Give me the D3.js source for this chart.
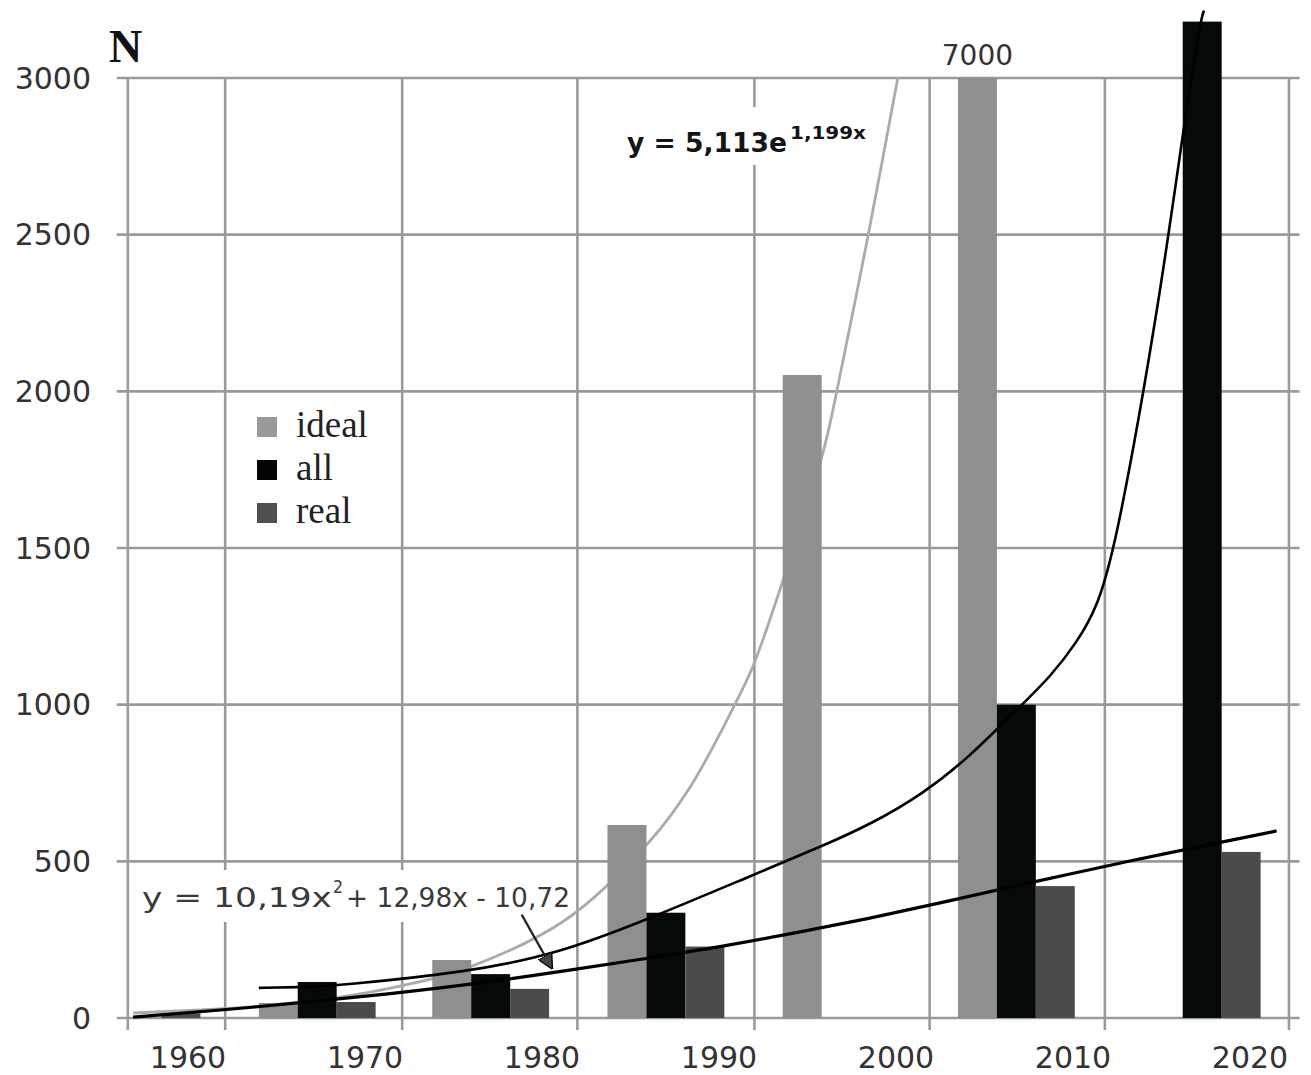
<!DOCTYPE html>
<html><head><meta charset="utf-8">
<script src="https://cdn.jsdelivr.net/npm/d3@7"></script>
<style>body{margin:0;background:#fff} svg{display:block}</style>
</head><body><svg id="c" width="1311" height="1075"></svg>
<script>
// ---------- data ----------
const groupYears = [1957.4, 1967.3, 1977.1, 1987.0, 1996.9, 2006.8, 2017.3];
const seriesNames = ["ideal", "all", "real"];
const idealValues = [17, 48, 185, 616, 2052, 7000, null];
const allValues = [null, 115, 140, 336, null, 1000, 3180];
const realValues = [15, 51, 93, 228, null, 421, 530];
const yTicks = [0, 500, 1000, 1500, 2000, 2500, 3000];
const xTickYears = [1960, 1970, 1980, 1990, 2000, 2010, 2020];
const gridYears = [1956.6, 1962.1, 1972.1, 1982.0, 1992.0, 2001.9, 2011.8, 2022.2];
const idealTrend = [[1956.9,16],[1960.7,26],[1964.0,38],[1968.4,65],[1972.1,103],[1975.8,160],[1981.4,316],[1986.1,565],[1988.4,740],[1990.8,990],[1991.9,1120],[1993.4,1360],[1995.9,1810],[1996.8,2040],[1998.5,2520],[2000.1,3000]];
const allTrend = [[1964.0,96],[1966.2,98],[1968.4,103],[1975.9,147],[1981.0,207],[1985.9,313],[1991.9,456],[1995.9,550],[1998.7,622],[2001.5,715],[2004.0,825],[2007.2,1005],[2008.7,1088],[2010.2,1197],[2011.4,1312],[2012.5,1526],[2014.9,2292],[2016.2,2825],[2017.2,3185],[2017.4,3215]];
const realTrend = [[1956.9,3],[1962.2,26],[1968.4,60],[1971.8,80],[1975.9,106],[1981.6,153],[1985.9,190],[1990.1,227],[1995.0,279],[1998.7,320],[2002.5,367],[2007.0,425],[2014.0,511],[2016.3,537],[2021.5,597]];
const idealFormula = ["y = 5,113e", "1,199x"];
const realFormula = ["y = 10,19x", "2", " + 12,98x - 10,72"];
const overflowLabel = "7000";

// ---------- scales ----------
const svg = d3.select("#c");
const x = d3.scaleLinear().domain([1960, 2020]).range([188, 1250]);
const y = d3.scaleLinear().domain([0, 3000]).range([1018, 78]);
const xL = x(1956.6), xR = x(2022.8);
const bw = x(2.2) - x(0);
const colors = {ideal: "#8f8f8f", all: "#060909", real: "#4b4b4b"};
const gridColor = "#9a9a9a";

// ---------- grid ----------
const grid = svg.append("g");
grid.selectAll("line.h").data(yTicks).join("line")
  .attr("x1", xL - 11).attr("x2", xR)
  .attr("y1", d => y(d)).attr("y2", d => y(d))
  .attr("stroke", gridColor).attr("stroke-width", 2.6);
grid.selectAll("line.v").data(gridYears).join("line")
  .attr("x1", d => x(d)).attr("x2", d => x(d))
  .attr("y1", y(3000)).attr("y2", y(0) + 12)
  .attr("stroke", gridColor).attr("stroke-width", 2.6);

// white label boxes (mask gridlines)
svg.append("rect").attr("x", 135).attr("y", 870).attr("width", 440).attr("height", 52).attr("fill", "#fff");
svg.append("rect").attr("x", 618).attr("y", 107).attr("width", 255).attr("height", 58).attr("fill", "#fff");

// ---------- axis labels ----------
svg.append("g").selectAll("text").data(yTicks).join("text")
  .attr("x", 91).attr("y", d => y(d)).attr("dy", "0.36em")
  .attr("text-anchor", "end")
  .attr("font-family", "DejaVu Sans").attr("font-size", 30).attr("fill", "#333")
  .text(d => d);
svg.append("g").selectAll("text").data(xTickYears).join("text")
  .attr("x", d => x(d)).attr("y", 1068)
  .attr("text-anchor", "middle")
  .attr("font-family", "DejaVu Sans").attr("font-size", 30).attr("fill", "#333")
  .text(d => d);
svg.append("text").attr("x", 109).attr("y", 62)
  .attr("font-family", "Liberation Serif").attr("font-weight", "bold").attr("font-size", 46).attr("fill", "#111")
  .text("N");

// ---------- exponential trend (behind bars) ----------
const line = d3.line().x(d => x(d[0])).y(d => y(d[1])).curve(d3.curveCatmullRom);
svg.append("path").datum(idealTrend).attr("d", line)
  .attr("fill", "none").attr("stroke", "#ababab").attr("stroke-width", 2.8);

// ---------- bars ----------
svg.append("clipPath").attr("id", "plot").append("rect")
  .attr("x", xL).attr("y", 0).attr("width", xR - xL).attr("height", y(0));
const seriesData = {ideal: idealValues, all: allValues, real: realValues};
const offsets = {ideal: -1, all: 0, real: 1};
const bars = [];
seriesNames.forEach(s => seriesData[s].forEach((v, i) => {
  if (v != null) bars.push({s, v, i});
}));
const shown = v => v > 4000 ? 3000 : v;
svg.append("g").attr("clip-path", "url(#plot)").selectAll("rect").data(bars).join("rect")
  .attr("x", d => x(groupYears[d.i]) - bw / 2 + offsets[d.s] * bw)
  .attr("width", bw)
  .attr("y", d => y(shown(d.v)))
  .attr("height", d => y(0) - y(shown(d.v)))
  .attr("fill", d => colors[d.s]);
svg.append("g").selectAll("text").data(bars.filter(d => d.v > 4000)).join("text")
  .attr("x", d => x(groupYears[d.i]) + offsets[d.s] * bw)
  .attr("y", 65).attr("text-anchor", "middle")
  .attr("font-family", "DejaVu Sans").attr("font-size", 28).attr("fill", "#333")
  .text(overflowLabel);

// ---------- black curves ----------
svg.append("path").datum(realTrend).attr("d", d3.line().x(d => x(d[0])).y(d => y(d[1])).curve(d3.curveBasis))
  .attr("fill", "none").attr("stroke", "#000").attr("stroke-width", 3.2);
svg.append("path").datum(allTrend).attr("d", d3.line().x(d => x(d[0])).y(d => y(d[1])).curve(d3.curveBasis))
  .attr("fill", "none").attr("stroke", "#000").attr("stroke-width", 2.6);

// ---------- formulas ----------
const f1 = svg.append("g");
f1.append("text").attr("x", 627).attr("y", 152)
  .attr("font-family", "DejaVu Sans").attr("font-weight", "bold").attr("font-size", 27).attr("fill", "#151515")
  .attr("textLength", 160).attr("lengthAdjust", "spacingAndGlyphs").text(idealFormula[0]);
f1.append("text").attr("x", 790).attr("y", 139)
  .attr("font-family", "DejaVu Sans").attr("font-weight", "bold").attr("font-size", 17).attr("fill", "#151515")
  .attr("textLength", 76).attr("lengthAdjust", "spacingAndGlyphs").text(idealFormula[1]);

const f2 = svg.append("g").attr("font-family", "DejaVu Sans").attr("fill", "#3a3a3a");
f2.append("text").attr("x", 142).attr("y", 907).attr("font-size", 27)
  .attr("textLength", 190).attr("lengthAdjust", "spacingAndGlyphs").text(realFormula[0]);
f2.append("text").attr("x", 333).attr("y", 893).attr("font-size", 17)
  .attr("textLength", 10).attr("lengthAdjust", "spacingAndGlyphs").text(realFormula[1]);
f2.append("text").attr("x", 346).attr("y", 907).attr("font-size", 27)
  .attr("textLength", 224).attr("lengthAdjust", "spacingAndGlyphs").text(realFormula[2]);

// arrow
svg.append("defs").append("marker").attr("id", "ah")
  .attr("viewBox", "0 0 10 10").attr("refX", 9).attr("refY", 5)
  .attr("markerWidth", 7).attr("markerHeight", 7).attr("orient", "auto")
  .append("path").attr("d", "M0,0 L10,5 L0,10 Z").attr("fill", "#444").attr("stroke", "#111");
svg.append("line")
  .attr("x1", x(1978.85)).attr("y1", y(330))
  .attr("x2", x(1980.55)).attr("y2", y(160))
  .attr("stroke", "#222").attr("stroke-width", 2.2).attr("marker-end", "url(#ah)");

// ---------- legend ----------
const legendColors = {ideal: "#999", all: "#050505", real: "#4f4f4f"};
const lg = svg.append("g");
const lgBase = [437, 480, 523];
seriesNames.forEach((s, k) => {
  lg.append("rect").attr("x", 257).attr("y", lgBase[k] - 20).attr("width", 20).attr("height", 20).attr("fill", legendColors[s]);
  lg.append("text").attr("x", 296).attr("y", lgBase[k])
    .attr("font-family", "Liberation Serif").attr("font-size", 37).attr("fill", "#222").text(s);
});
</script></body></html>
